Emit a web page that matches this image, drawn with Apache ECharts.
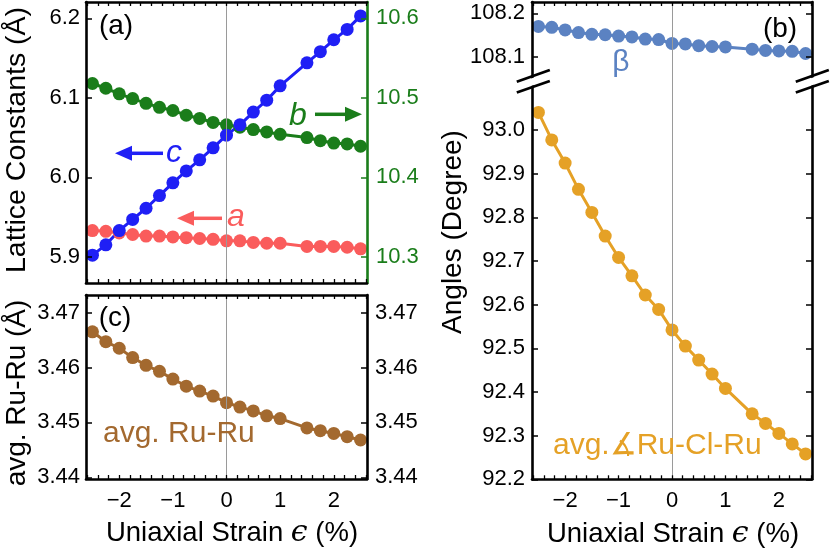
<!DOCTYPE html>
<html><head><meta charset="utf-8">
<script src="https://cdn.jsdelivr.net/npm/echarts@6/dist/echarts.min.js"></script>
<style>html,body{margin:0;padding:0;background:#fff}#c{width:830px;height:550px}</style>
</head><body><div id="c"></div>
<script>
// ---- data ----
const strain = [-2.5,-2.25,-2,-1.75,-1.5,-1.25,-1,-0.75,-0.5,-0.25,0,0.25,0.5,0.75,1,1.5,1.75,2,2.25,2.5];
const latticeA = [5.933,5.932,5.930,5.928,5.926,5.926,5.925,5.924,5.923,5.922,5.920,5.920,5.918,5.917,5.917,5.913,5.913,5.913,5.912,5.910];
const latticeB = [10.518,10.512,10.505,10.499,10.493,10.488,10.484,10.478,10.474,10.469,10.466,10.463,10.460,10.457,10.454,10.450,10.446,10.443,10.442,10.439];
const latticeC = [5.902,5.915,5.933,5.947,5.961,5.977,5.993,6.008,6.022,6.037,6.053,6.066,6.082,6.097,6.115,6.144,6.158,6.173,6.186,6.203];
const ruRu = [3.4665,3.4647,3.4635,3.4618,3.4604,3.4593,3.4579,3.4566,3.4557,3.4548,3.4536,3.4528,3.4521,3.4512,3.4507,3.4490,3.4485,3.4480,3.4474,3.4468];
const betaAngle = [108.170,108.168,108.162,108.156,108.152,108.151,108.148,108.146,108.141,108.140,108.131,108.130,108.126,108.124,108.123,108.118,108.115,108.114,108.113,108.108];
const ruClRu = [93.040,92.977,92.924,92.864,92.811,92.757,92.708,92.666,92.622,92.589,92.542,92.505,92.473,92.441,92.408,92.350,92.328,92.305,92.281,92.258];

const xTickLabels = [-2,-1,0,1,2];
const xTickMarks = [-2.6,-2.4,-2.2,-2,-1.8,-1.6,-1.4,-1.2,-1,-0.8,-0.6,-0.4,-0.2,0,0.2,0.4,0.6,0.8,1,1.2,1.4,1.6,1.8,2,2.2,2.4,2.6];
const latticeLeftTicks = [5.9,6.0,6.1,6.2];
const latticeRightTicks = [10.3,10.4,10.5,10.6];
const ruRuTicks = [3.44,3.45,3.46,3.47];
const betaTicks = [108.1,108.2];
const angleTicks = [92.2,92.3,92.4,92.5,92.6,92.7,92.8,92.9,93.0];

// ---- style ----
const FONT = '"Liberation Sans", Arial, sans-serif';
const C_BLUE = '#1f1ff5', C_GREEN = '#1a7d1a', C_RED = '#fa5c5c', C_BROWN = '#a3692f', C_BETA = '#5b82c2', C_ORANGE = '#e5a126';

function pairs(ys){ return strain.map((x,i)=>[x, ys[i]]); }
function xAx(grid, pos, labels){
  return {type:'value', gridIndex:grid, position:pos, min:-2.62, max:2.62, z:5,
    axisLine:{show:true,onZero:false,lineStyle:{color:'#000',width:2.6}},
    axisTick:{show:true,inside:true,length:4,customValues:xTickMarks,lineStyle:{color:'#000',width:1.3}},
    axisLabel:{show:labels,customValues:xTickLabels,margin:11,fontSize:22,fontFamily:FONT,color:'#000',
      formatter:v=> v<0 ? '\u2212'+Math.abs(v) : String(v)},
    splitLine:{show:false}};
}
function yAx(grid, pos, min, max, ticks, labels, dec, color, margin){
  return {type:'value', gridIndex:grid, position:pos, min, max, z:5,
    axisLine:{show:true,onZero:false,lineStyle:{color,width:2.6}},
    axisTick:{show:true,inside:true,length:6,customValues:ticks,lineStyle:{color,width:1.5}},
    axisLabel:{show:labels,customValues:ticks,formatter:v=>Number(v).toFixed(dec),fontSize:22,fontFamily:FONT,color,margin:margin||7},
    splitLine:{show:false}};
}
const zeroLine = {silent:true, symbol:['none','none'], label:{show:false}, animation:false,
  lineStyle:{color:'#9a9a9a',width:1,type:'solid'}, data:[{xAxis:0}]};
function ser(data, xi, yi, color, withZero){
  const s = {type:'line', data:pairs(data), xAxisIndex:xi, yAxisIndex:yi, symbol:'circle', symbolSize:13,
    lineStyle:{color,width:3}, itemStyle:{color}, animation:false, z:2};
  if (withZero) s.markLine = zeroLine;
  return s;
}

const option = {
  backgroundColor:'#fff',
  animation:false,
  grid:[
    {left:86, top:2, width:281, height:281},
    {left:86, top:295, width:281, height:184},
    {left:532, top:2, width:280, height:79},
    {left:532, top:81, width:280, height:398.3}
  ],
  xAxis:[
    xAx(0,'bottom',false), xAx(0,'top',false),
    xAx(1,'bottom',true), xAx(1,'top',false),
    xAx(2,'top',false),
    xAx(3,'bottom',true)
  ],
  yAxis:[
    yAx(0,'left',5.867,6.2205,latticeLeftTicks,true,1,'#000',6),
    yAx(0,'right',10.267,10.6205,latticeRightTicks,true,1,C_GREEN,9),
    yAx(1,'left',3.4397,3.4732,ruRuTicks,true,2,'#000',6),
    yAx(1,'right',3.4397,3.4732,ruRuTicks,true,2,'#000',8),
    yAx(2,'left',108.045,108.226,betaTicks,true,1,'#000',7),
    yAx(2,'right',108.045,108.226,betaTicks,false,1,'#000'),
    yAx(3,'left',92.2,93.112,angleTicks,true,1,'#000',7),
    yAx(3,'right',92.2,93.112,angleTicks,false,1,'#000')
  ],
  series:[
    ser(latticeA,0,0,C_RED,true),
    ser(latticeB,0,1,C_GREEN,false),
    ser(latticeC,0,0,C_BLUE,false),
    ser(ruRu,2,2,C_BROWN,true),
    ser(betaAngle,4,4,C_BETA,true),
    ser(ruClRu,5,6,C_ORANGE,true)
  ],
  graphic:[]
};

function txt(x,y,text,size,color,extra){
  return Object.assign({type:'text', x, y, z:100, silent:true,
    style:Object.assign({text, fill:color, fontSize:size, fontFamily:FONT, align:'center', verticalAlign:'middle'}, (extra&&extra.style)||{})},
    extra&&extra.el||{});
}
function arrow(x1,x2,tip,y,color){ // shaft from x1 to x2, head tip at tip
  const dir = tip > x2 ? 1 : -1;
  const base = tip - dir*17;
  return [
    {type:'line', z:100, silent:true, shape:{x1, y1:y, x2:base+dir*1, y2:y}, style:{stroke:color, lineWidth:3.5}},
    {type:'polygon', z:100, silent:true, shape:{points:[[tip,y],[base,y-7.5],[base,y+7.5]]}, style:{fill:color}}
  ];
}
function breakMark(cx){
  const x1 = cx-16.5, x2 = cx+16.5;
  return [
    {type:'polygon', z:120, silent:true, shape:{points:[[x1,83.5],[x2,72],[x2,79.5],[x1,91]]}, style:{fill:'#fff'}},
    {type:'line', z:121, silent:true, shape:{x1, y1:81.7, x2, y2:70}, style:{stroke:'#000', lineWidth:2.8}},
    {type:'line', z:121, silent:true, shape:{x1, y1:92.5, x2, y2:81}, style:{stroke:'#000', lineWidth:2.8}}
  ];
}
const xTitle = '{n|Uniaxial Strain }{e|\u03f5}{n| (%)}';
const xTitleRich = {n:{fontSize:27.5, fontFamily:FONT, fill:'#000'}, e:{fontSize:30, fontFamily:'"DejaVu Serif", serif', fontStyle:'italic', fill:'#000'}};
const g = option.graphic;
g.push(txt(116,26,'(a)',28,'#000'));
g.push(txt(115,318,'(c)',28,'#000'));
g.push(txt(780,29,'(b)',28,'#000'));
g.push(txt(621,63,'\u03b2',30,C_BETA));
g.push(txt(174,153,'c',32,C_BLUE,{style:{fontStyle:'italic'}}));
g.push(txt(236,217,'a',32,C_RED,{style:{fontStyle:'italic'}}));
g.push(txt(298,116,'b',32,C_GREEN,{style:{fontStyle:'italic'}}));
g.push(...arrow(163,133,115,153.3,C_BLUE));
g.push(...arrow(222,193,177,218.3,C_RED));
g.push(...arrow(315,347,362,114.3,C_GREEN));
g.push(txt(103,434,'avg. Ru-Ru',30,C_BROWN,{style:{align:'left'}}));
g.push(txt(553,445.5,'avg.\u2221Ru-Cl-Ru',30,C_ORANGE,{style:{align:'left'}}));
g.push(txt(17,140,'Lattice Constants (\u00c5)',28.5,'#000',{el:{rotation:Math.PI/2}}));
g.push(txt(17,393,'avg. Ru-Ru (\u00c5)',28,'#000',{el:{rotation:Math.PI/2}}));
g.push(txt(453,232,'Angles (Degree)',28,'#000',{el:{rotation:Math.PI/2}}));
g.push({type:'text', x:232, y:533, z:100, silent:true, style:{text:xTitle, rich:xTitleRich, align:'center', verticalAlign:'middle'}});
g.push({type:'text', x:673, y:534, z:100, silent:true, style:{text:xTitle, rich:xTitleRich, align:'center', verticalAlign:'middle'}});
g.push(...breakMark(533.3));
g.push(...breakMark(812.3));

const chart = echarts.init(document.getElementById('c'), null, {renderer:'canvas'});
chart.setOption(option);
</script>
</body></html>
